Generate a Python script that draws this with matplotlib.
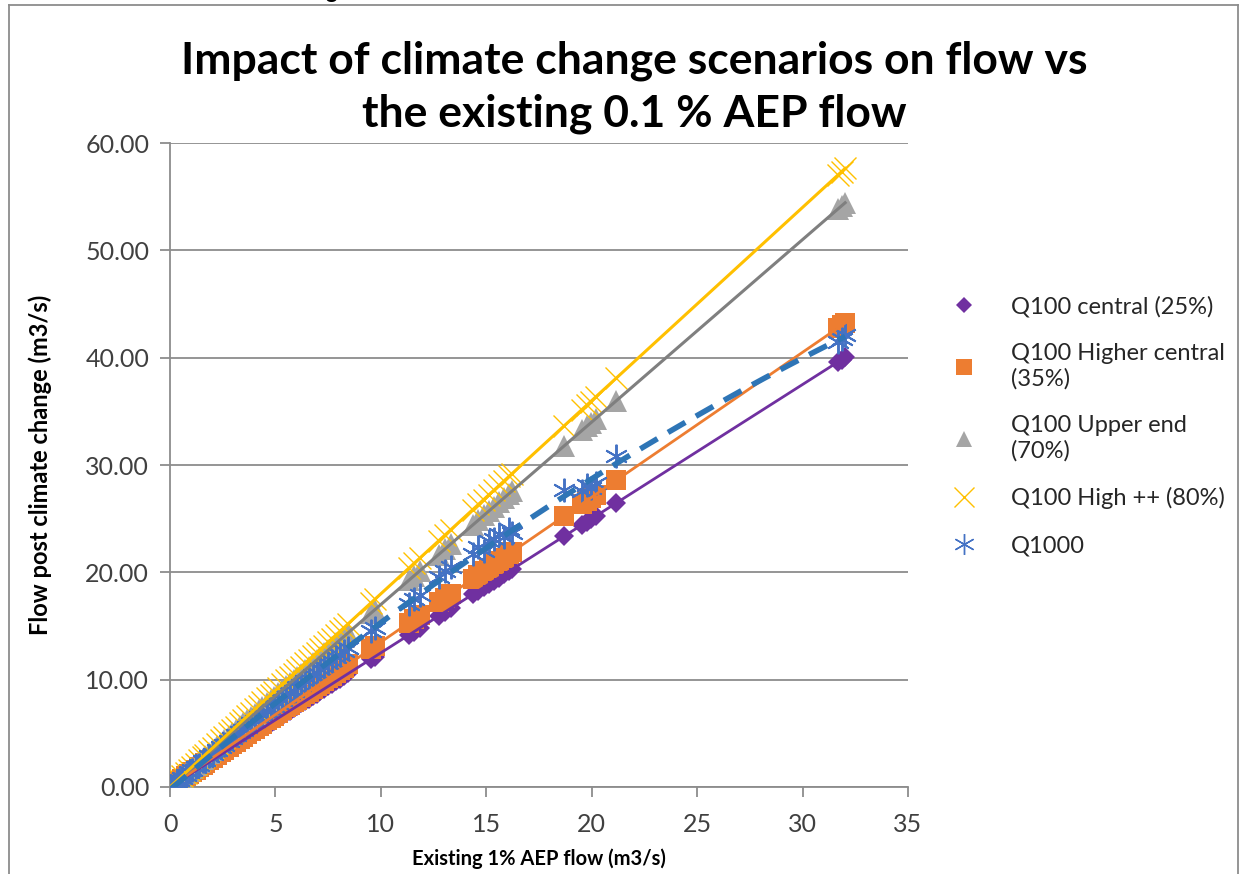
import numpy as np
import matplotlib
matplotlib.use('Agg')
import matplotlib.pyplot as plt
from matplotlib.lines import Line2D

plt.rcParams['font.family'] = ['Lato', 'DejaVu Sans']

# existing 1% AEP flow (m3/s)
flow_x = [0.05, 0.18, 0.31, 0.42, 0.55, 0.74, 0.88, 1.02, 1.21, 1.37,
          1.55, 1.68, 1.86, 2.03, 2.24, 2.41, 2.57, 2.79, 2.96, 3.12,
          3.33, 3.48, 3.67, 3.85, 4.02, 4.21, 4.38, 4.59, 4.77, 4.93,
          5.14, 5.31, 5.52, 5.68, 5.86, 6.04, 6.22, 6.41, 6.58, 6.77,
          6.95, 7.13, 7.32, 7.51, 7.68, 7.87, 8.05, 8.24, 8.46,
          9.52, 9.71, 11.32, 11.58, 11.85, 12.74, 13.06, 13.31,
          14.35, 14.62, 14.88, 15.12, 15.37, 15.61, 15.84, 16.08, 16.22,
          18.68, 19.54, 19.76, 19.95, 20.18, 21.17, 31.68, 31.85, 32.02]

q100_central = [0.06, 0.23, 0.39, 0.53, 0.69, 0.93, 1.10, 1.28, 1.51, 1.71,
                1.94, 2.10, 2.33, 2.54, 2.80, 3.01, 3.21, 3.49, 3.70, 3.90,
                4.16, 4.35, 4.59, 4.81, 5.03, 5.26, 5.48, 5.74, 5.96, 6.16,
                6.43, 6.64, 6.90, 7.10, 7.33, 7.55, 7.78, 8.01, 8.23, 8.46,
                8.69, 8.91, 9.15, 9.39, 9.60, 9.84, 10.06, 10.30, 10.58,
                11.90, 12.14, 14.15, 14.48, 14.81, 15.93, 16.33, 16.64,
                17.94, 18.28, 18.60, 18.90, 19.21, 19.51, 19.80, 20.10, 20.28,
                23.35, 24.43, 24.70, 24.94, 25.23, 26.46, 39.60, 39.81, 40.03]

q100_higher = [0.07, 0.24, 0.42, 0.57, 0.74, 1.00, 1.19, 1.38, 1.63, 1.85,
               2.09, 2.27, 2.51, 2.74, 3.02, 3.25, 3.47, 3.77, 4.00, 4.21,
               4.50, 4.70, 4.95, 5.20, 5.43, 5.68, 5.91, 6.20, 6.44, 6.66,
               6.94, 7.17, 7.45, 7.67, 7.91, 8.15, 8.40, 8.65, 8.88, 9.14,
               9.38, 9.63, 9.88, 10.14, 10.37, 10.62, 10.87, 11.12, 11.42,
               12.85, 13.11, 15.28, 15.63, 16.00, 17.20, 17.63, 17.97,
               19.37, 19.74, 20.09, 20.41, 20.75, 21.07, 21.38, 21.71, 21.90,
               25.22, 26.38, 26.68, 26.93, 27.24, 28.58, 42.77, 43.00, 43.23]

q100_upper = [0.09, 0.31, 0.53, 0.71, 0.94, 1.26, 1.50, 1.73, 2.06, 2.33,
              2.64, 2.86, 3.16, 3.45, 3.81, 4.10, 4.37, 4.74, 5.03, 5.30,
              5.66, 5.92, 6.24, 6.55, 6.83, 7.16, 7.45, 7.80, 8.11, 8.38,
              8.74, 9.03, 9.38, 9.66, 9.96, 10.27, 10.57, 10.90, 11.19, 11.51,
              11.82, 12.12, 12.44, 12.77, 13.06, 13.38, 13.69, 14.01, 14.38,
              16.18, 16.51, 19.24, 19.69, 20.15, 21.66, 22.20, 22.63,
              24.40, 24.85, 25.30, 25.70, 26.13, 26.54, 26.93, 27.34, 27.57,
              31.76, 33.22, 33.59, 33.92, 34.31, 35.99, 53.86, 54.15, 54.43]

q100_highpp = [0.09, 0.32, 0.56, 0.76, 0.99, 1.33, 1.58, 1.84, 2.18, 2.47,
               2.79, 3.02, 3.35, 3.65, 4.03, 4.34, 4.63, 5.02, 5.33, 5.62,
               5.99, 6.26, 6.61, 6.93, 7.24, 7.58, 7.88, 8.26, 8.59, 8.87,
               9.25, 9.56, 9.94, 10.22, 10.55, 10.87, 11.20, 11.54, 11.84, 12.19,
               12.51, 12.83, 13.18, 13.52, 13.82, 14.17, 14.49, 14.83, 15.23,
               17.14, 17.48, 20.38, 20.84, 21.33, 22.93, 23.51, 23.96,
               25.83, 26.32, 26.78, 27.22, 27.67, 28.10, 28.51, 28.94, 29.20,
               33.62, 35.17, 35.57, 35.91, 36.32, 38.11, 57.02, 57.33, 57.64]

q1000 = [0.08, 0.28, 0.49, 0.66, 0.84, 1.13, 1.37, 1.55, 1.87, 2.09,
         2.40, 2.55, 2.86, 3.12, 3.41, 3.70, 3.93, 4.30, 4.52, 4.81,
         5.09, 5.35, 5.60, 5.93, 6.14, 6.49, 6.70, 7.05, 7.30, 7.59,
         7.86, 8.15, 8.44, 8.73, 8.97, 9.28, 9.51, 9.84, 10.07, 10.39,
         10.63, 10.95, 11.20, 11.52, 11.75, 12.08, 12.32, 12.65, 12.94,
         14.55, 14.80, 17.05, 17.50, 17.90, 19.60, 20.10, 20.50,
         21.70, 22.40, 22.00, 22.90, 23.10, 23.60, 23.30, 24.00, 23.70,
         27.70, 27.60, 28.10, 27.90, 28.30, 30.80, 41.50, 41.70, 42.10]

x = np.array(flow_x)

fig = plt.figure(figsize=(12.46, 8.74), dpi=100)
ax = fig.add_axes([170 / 1246, 1 - 787 / 874, (908 - 170) / 1246, (787 - 143) / 874])

series = [
    ('Q100 central (25%)', q100_central, 'D', 10, '#7030A0', '#7030A0', 2.0),
    ('Q100 Higher central\n(35%)', q100_higher, 's', 15, '#ED7D31', '#ED7D31', 2.0),
    ('Q100 Upper end\n(70%)', q100_upper, '^', 16, '#A5A5A5', '#7F7F7F', 2.2),
    ('Q100 High ++ (80%)', q100_highpp, 'x', 16, '#FFC000', '#FFC000', 2.2),
]
legend_ms = {'D': 8, 's': 12, '^': 12, 'x': 15}

handles = []
for label, yv, mk, ms, col, tcol, lw in series:
    y = np.array(yv)
    mew = 1.0 if mk == 'x' else 0
    ax.plot(x, y, linestyle='', marker=mk, ms=ms, mew=mew, color=col, zorder=3)
    # linear trendline, as in the spreadsheet
    k, b = np.polyfit(x, y, 1)
    xt = np.array([x.min(), x.max()])
    ax.plot(xt, k * xt + b, color=tcol, lw=lw, zorder=5)
    handles.append(Line2D([], [], linestyle='', marker=mk, ms=legend_ms[mk], mew=mew,
                          color=col, label=label))

# Q1000 with polynomial trend
yq = np.array(q1000)
ax.plot(x, yq, linestyle='', marker=(6, 2, 0), ms=17, mew=1.4, color='#4472C4', zorder=4)
p = np.polyfit(x, yq, 2)
xt = np.linspace(x.min(), x.max(), 200)
ax.plot(xt, np.polyval(p, xt), color='#2E75B6', lw=4, ls=(0, (3.6, 2.2)), zorder=6)
handles.append(Line2D([], [], linestyle='', marker=(6, 2, 0), ms=15, mew=1.0,
                      color='#4472C4', label='Q1000'))

ax.set_xlim(0, 35)
ax.set_ylim(0, 60)
ax.set_xticks(range(0, 36, 5))
ax.set_yticks(range(0, 61, 10))
ax.set_yticklabels([f'{v:.2f}' for v in range(0, 61, 10)])
ax.yaxis.grid(True, color='#8C8C8C', lw=1.3)
ax.set_axisbelow(True)
for s in ['top', 'right']:
    ax.spines[s].set_visible(False)
for s in ['left', 'bottom']:
    ax.spines[s].set_color('#8C8C8C')
    ax.spines[s].set_linewidth(1.3)
ax.tick_params(axis='both', direction='out', length=7, width=1.3, color='#8C8C8C',
               labelsize=18, labelcolor='#404040')
ax.tick_params(axis='x', pad=12)
ax.tick_params(axis='y', pad=8)

ax.set_title('Impact of climate change scenarios on flow vs\nthe existing 0.1 % AEP flow',
             fontsize=32, fontweight='bold', linespacing=1.38, pad=12, x=0.629)
ax.set_xlabel('Existing 1% AEP flow (m3/s)', fontsize=14.5, fontweight='bold', labelpad=9)
ax.set_ylabel('Flow post climate change (m3/s)', fontsize=17, fontweight='bold', labelpad=24)

fig.legend(handles=handles, loc='upper left', bbox_to_anchor=(938 / 1246, 1 - 284 / 874),
           frameon=False, fontsize=17, labelspacing=1.1, handletextpad=1.4,
           handlelength=1.2, labelcolor='#262626', borderpad=0)

# cut-off text from the page above the chart
fig.text(326 / 1246, 1 + 2 / 874, 'g', fontsize=16, fontweight='bold', va='baseline')

# chart frame
frame_col = '#8C8C8C'
fig.add_artist(Line2D([9 / 1246, 9 / 1246], [0, 1 - 5 / 874], color=frame_col, lw=1.3))
fig.add_artist(Line2D([9 / 1246, 1238 / 1246], [1 - 5 / 874, 1 - 5 / 874], color=frame_col, lw=1.3))
fig.add_artist(Line2D([1238 / 1246, 1238 / 1246], [0, 1 - 5 / 874], color=frame_col, lw=1.3))

fig.savefig('out.png', dpi=100)
